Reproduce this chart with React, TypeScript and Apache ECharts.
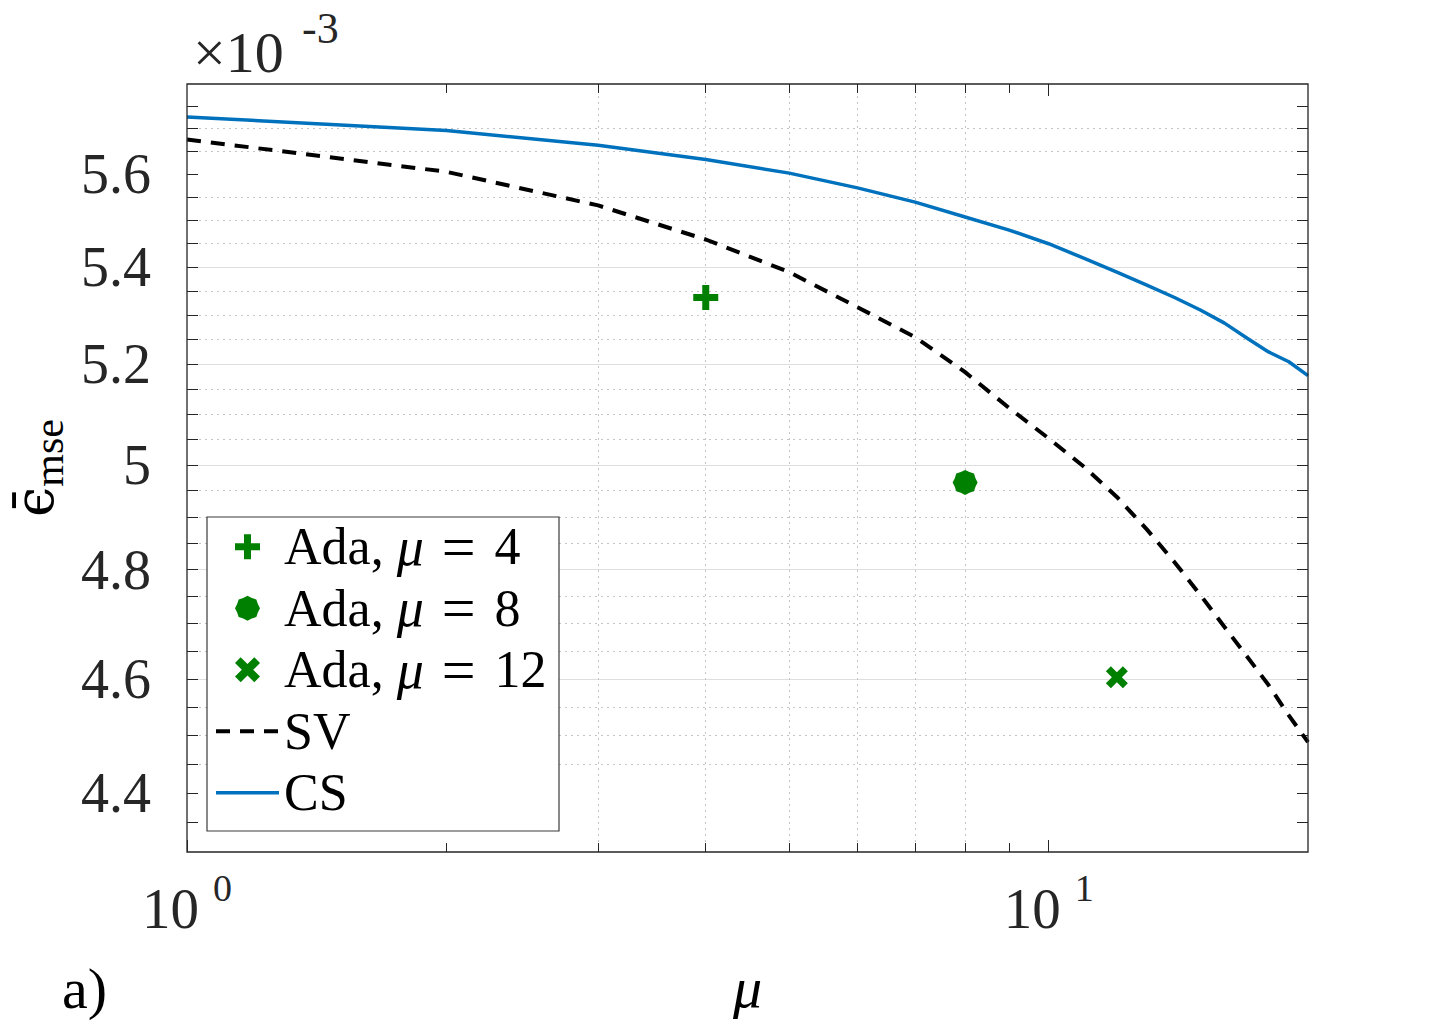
import React, { useEffect, useRef } from 'react';
import * as echarts from 'echarts';

// Step size mu (log axis) and mean-squared error, in units of 1e-3
const muValues = [1, 2, 3, 4, 5, 6, 7, 8, 9, 10, 11, 12, 13, 14, 15, 16, 17, 18, 19, 20];
const svMse = [5.676, 5.605, 5.532, 5.459, 5.390, 5.317, 5.255, 5.184, 5.112, 5.052, 4.996, 4.938, 4.876, 4.814, 4.753, 4.694, 4.640, 4.589, 4.535, 4.488];
const csMse = [5.726, 5.696, 5.663, 5.632, 5.602, 5.570, 5.539, 5.507, 5.479, 5.450, 5.419, 5.390, 5.363, 5.337, 5.311, 5.284, 5.253, 5.225, 5.205, 5.177];

// Adaptive runs, one point each
const adaptiveNames = ['Ada, μ = 4', 'Ada, μ = 8', 'Ada, μ = 12'];
const adaptiveMu = [4, 8, 12];
const adaptiveMse = [5.337, 4.966, 4.603];

// Axis ticks
const xMajorTicks = [1, 10];
const xMinorTicks = [2, 3, 4, 5, 6, 7, 8, 9];
const yMajorTicks = [4.4, 4.6, 4.8, 5.0, 5.2, 5.4, 5.6];
const yMinorTicks = [4.35, 4.45, 4.5, 4.55, 4.65, 4.7, 4.75, 4.85, 4.9, 4.95, 5.05, 5.1, 5.15, 5.25, 5.3, 5.35, 5.45, 5.5, 5.55, 5.65, 5.7, 5.75];
const yAllTicks = [...yMajorTicks, ...yMinorTicks];
const X_RANGE = [1, 20];
const Y_RANGE = [4.3, 5.8];

const W = 1448;
const H = 1030;
const PLOT = { left: 187, top: 84, right: 1308, bottom: 852 };
const SERIF = 'Liberation Serif, Times New Roman, serif';
const AXIS_INK = '#262626';
const GREEN = '#008000';
const BLUE = '#0072BD';

// Marker glyphs
const plusPath = 'path://M9,0L16,0L16,9L25,9L25,16L16,16L16,25L9,25L9,16L0,16L0,9L9,9Z';
const crossPath = 'path://M0,5L5,0L11,6L17,0L22,5L16,11L22,17L17,22L11,16L5,22L0,17L6,11Z';
const notchedDiscPath = (() => {
  const pts: string[] = [];
  for (let k = 0; k < 16; k++) {
    const a = (k * Math.PI) / 8;
    const r = k % 2 === 0 ? 12.5 : 11.2;
    pts.push(`${(12.5 + r * Math.cos(a)).toFixed(2)},${(12.5 + r * Math.sin(a)).toFixed(2)}`);
  }
  return 'path://M' + pts.join('L') + 'Z';
})();
const adaptiveSymbols = [plusPath, notchedDiscPath, crossPath];
const adaptiveSizes = [25, 25, 22];

function logAxisBase(extra: any) {
  return {
    type: 'log',
    logBase: 10,
    gridIndex: 0,
    axisLine: { show: false },
    axisLabel: { show: false },
    splitLine: { show: false },
    minorTick: { show: false },
    minorSplitLine: { show: false },
    ...extra,
  };
}

// Legend entry text as rich tokens, with the mu set in italics
function legendLabel(name: string) {
  const m = name.match(/^(.*), μ = (.*)$/);
  if (!m) return `{t|${name}}`;
  return `{t|${m[1]}, }{i|μ}{e|=}{t|${m[2]}}`;
}

export default function App() {
  const ref = useRef<HTMLDivElement>(null);

  useEffect(() => {
    if (!ref.current) return;
    const chart = echarts.init(ref.current, undefined, { renderer: 'svg' });

    const tickStyle = { color: AXIS_INK, width: 1 };
    const majorGrid = { show: true, showMinLine: false, showMaxLine: false, lineStyle: { color: '#dedede', width: 1, type: 'solid' } };
    const minorGrid = { show: true, showMinLine: false, showMaxLine: false, lineStyle: { color: '#c4c4c4', width: 1, type: [2, 4] } };

    const xAxes = [
      logAxisBase({
        position: 'bottom',
        min: X_RANGE[0],
        max: X_RANGE[1],
        axisTick: { show: true, inside: true, length: 12, customValues: xMajorTicks, lineStyle: tickStyle },
        axisLabel: {
          show: true,
          customValues: xMajorTicks,
          margin: 16,
          formatter: (v: number) => `{b|10}{s|${Math.round(Math.log10(v))}}`,
          rich: {
            b: { fontSize: 57, fontFamily: SERIF, color: AXIS_INK, lineHeight: 60, padding: [20, 0, 0, 0] },
            s: { fontSize: 38, fontFamily: SERIF, color: AXIS_INK, lineHeight: 40, padding: [10, 0, 30, 14] },
          },
        },
        splitLine: majorGrid,
        name: 'μ',
        nameLocation: 'middle',
        nameGap: 106,
        nameTextStyle: { fontSize: 58, fontStyle: 'italic', fontFamily: SERIF, color: '#000' },
      }),
      logAxisBase({
        position: 'bottom',
        min: X_RANGE[0],
        max: X_RANGE[1],
        axisTick: { show: true, inside: true, length: 9, customValues: xMinorTicks, lineStyle: tickStyle },
        splitLine: minorGrid,
      }),
      logAxisBase({
        position: 'top',
        min: X_RANGE[0],
        max: X_RANGE[1],
        axisTick: { show: true, inside: true, length: 12, customValues: [10], lineStyle: tickStyle },
      }),
      logAxisBase({
        position: 'top',
        min: X_RANGE[0],
        max: X_RANGE[1],
        axisTick: { show: true, inside: true, length: 9, customValues: xMinorTicks, lineStyle: tickStyle },
      }),
    ];

    const yAxes = [
      logAxisBase({
        position: 'left',
        min: Y_RANGE[0],
        max: Y_RANGE[1],
        axisTick: { show: true, inside: true, length: 11, customValues: yMajorTicks, lineStyle: tickStyle },
        axisLabel: {
          show: true,
          customValues: yMajorTicks,
          margin: 36,
          fontSize: 56,
          fontFamily: SERIF,
          color: AXIS_INK,
          formatter: (v: number) => String(Math.round(v * 10) / 10),
        },
        splitLine: majorGrid,
      }),
      logAxisBase({
        position: 'left',
        min: Y_RANGE[0],
        max: Y_RANGE[1],
        axisTick: { show: true, inside: true, length: 11, customValues: yMinorTicks, lineStyle: tickStyle },
        splitLine: minorGrid,
      }),
      logAxisBase({
        position: 'right',
        min: Y_RANGE[0],
        max: Y_RANGE[1],
        axisTick: { show: true, inside: true, length: 11, customValues: yAllTicks, lineStyle: tickStyle },
      }),
    ];

    const adaptiveSeries = adaptiveNames.map((name, i) => ({
      name,
      type: 'scatter',
      xAxisIndex: 0,
      yAxisIndex: 0,
      data: [[adaptiveMu[i], adaptiveMse[i]]],
      symbol: adaptiveSymbols[i],
      symbolSize: adaptiveSizes[i],
      itemStyle: { color: GREEN, opacity: 1 },
      z: 5,
    }));

    // One row per legend entry, all rows the same height
    const ROW = 61.5;
    const tok = { fontFamily: SERIF, color: '#000', lineHeight: ROW };
    const legendText = {
      fontSize: 52,
      fontFamily: SERIF,
      color: '#000',
      lineHeight: ROW,
      rich: {
        t: { ...tok, fontSize: 52 },
        i: { ...tok, fontSize: 54, fontStyle: 'italic' },
        e: { ...tok, fontSize: 60, padding: [0, 19, 0, 18] },
      },
    };
    const hiddenMarker = { color: 'rgba(0,0,0,0)', borderWidth: 0, opacity: 0 };

    chart.setOption({
      animation: false,
      backgroundColor: '#ffffff',
      grid: {
        left: PLOT.left,
        top: PLOT.top,
        right: W - PLOT.right,
        bottom: H - PLOT.bottom,
        show: false,
      },
      xAxis: xAxes,
      yAxis: yAxes,
      legend: {
        orient: 'vertical',
        left: 207,
        top: 516,
        padding: [0, 10, 0, 7],
        itemWidth: 63,
        itemHeight: 25,
        itemGap: 0,
        selectedMode: false,
        z: 10,
        data: [
          ...adaptiveNames,
          { name: 'SV', itemStyle: hiddenMarker },
          { name: 'CS', itemStyle: hiddenMarker },
        ],
        lineStyle: { width: 'inherit' },
        textStyle: legendText,
        formatter: legendLabel,
      },
      series: [
        ...adaptiveSeries,
        {
          name: 'SV',
          type: 'line',
          xAxisIndex: 0,
          yAxisIndex: 0,
          data: muValues.map((m, i) => [m, svMse[i]]),
          symbol: 'none',
          lineStyle: { color: '#000000', width: 4, type: [14, 10] },
          itemStyle: { color: '#000000' },
          z: 3,
        },
        {
          name: 'CS',
          type: 'line',
          xAxisIndex: 0,
          yAxisIndex: 0,
          data: muValues.map((m, i) => [m, csMse[i]]),
          symbol: 'none',
          lineStyle: { color: BLUE, width: 3.5, type: 'solid' },
          itemStyle: { color: BLUE },
          z: 3,
        },
      ],
      graphic: [
        {
          type: 'rect',
          z: 9,
          silent: true,
          shape: { x: 207, y: 517, width: 352, height: 314 },
          style: { fill: '#ffffff', stroke: '#3a3a3a', lineWidth: 1.2 },
        },
        {
          type: 'rect',
          z: 30,
          silent: true,
          shape: { x: PLOT.left, y: PLOT.top, width: PLOT.right - PLOT.left, height: PLOT.bottom - PLOT.top },
          style: { fill: 'none', stroke: AXIS_INK, lineWidth: 1.3 },
        },
        {
          type: 'text',
          x: 193,
          y: 52,
          style: { text: '×10', fontSize: 58, fontFamily: SERIF, fill: AXIS_INK, align: 'left', verticalAlign: 'middle' },
        },
        {
          type: 'text',
          x: 302,
          y: 28,
          style: { text: '-3', fontSize: 44, fontFamily: SERIF, fill: AXIS_INK, align: 'left', verticalAlign: 'middle' },
        },
        {
          type: 'text',
          x: 62,
          y: 988,
          style: { text: 'a)', fontSize: 58, fontFamily: SERIF, fill: '#000', align: 'left', verticalAlign: 'middle' },
        },
        {
          type: 'text',
          x: 49,
          y: 468,
          rotation: Math.PI / 2,
          style: {
            text: '{e|ϵ\u0304}{s|mse}',
            align: 'center',
            verticalAlign: 'middle',
            rich: {
              e: { fontSize: 54, fontFamily: 'DejaVu Serif, serif', fill: '#000', lineHeight: 60, padding: [0, 0, 30, 0] },
              s: { fontSize: 42, fontFamily: SERIF, fill: '#000', lineHeight: 60, padding: [15, 0, 15, 0] },
            },
          },
        },
      ],
    });

    return () => chart.dispose();
  }, []);

  return (
    <div
      ref={ref}
      style={{ position: 'fixed', left: 0, top: 0, width: W, height: H, background: '#fff' }}
    />
  );
}
